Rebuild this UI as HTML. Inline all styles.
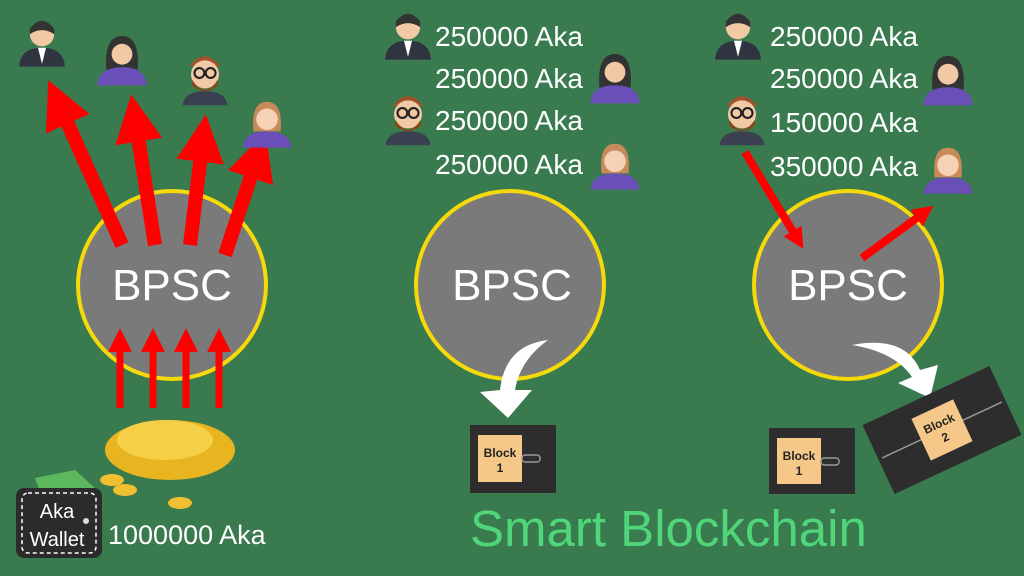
<!DOCTYPE html><html><head><style>body{margin:0}svg{display:block}</style></head><body>
<svg width="1024" height="576" viewBox="0 0 1024 576" xmlns="http://www.w3.org/2000/svg" font-family="Liberation Sans, sans-serif">
<defs>
<g id="man0"><circle cx="0" cy="-8" r="9" fill="#f1c9a5"/><path d="M-9,-12 Q0,-24 9,-12 L9,-8 Q0,-14 -9,-8Z" fill="#333"/><path d="M-17,16 Q-16,2 0,2 Q16,2 17,16Z" fill="#2f3440"/><path d="M-3,2 L0,14 L3,2Z" fill="#fff"/></g>
<g id="woman0"><path d="M-12,6 Q-14,-20 0,-20 Q14,-20 12,6Z" fill="#333"/><circle cx="0" cy="-6" r="8" fill="#f1c9a5"/><path d="M-19,18 Q-18,4 0,4 Q18,4 19,18Z" fill="#6b4fb8"/></g>
<g id="nerd0"><path d="M-11,-10 Q0,-24 11,-10Z" fill="#a0522d"/><circle cx="0" cy="-4" r="10" fill="#f1c9a5"/><path d="M-9,0 Q0,14 9,0 L9,4 Q0,12 -9,4Z" fill="#8b4513"/><circle cx="-4" cy="-5" r="3.5" fill="none" stroke="#222" stroke-width="1.5"/><circle cx="4" cy="-5" r="3.5" fill="none" stroke="#222" stroke-width="1.5"/><path d="M-16,18 Q-15,8 0,8 Q15,8 16,18Z" fill="#3a4050"/></g>
<g id="girl0"><path d="M-10,4 Q-12,-18 0,-18 Q12,-18 10,4Z" fill="#c88a5a"/><circle cx="0" cy="-5" r="8" fill="#f5d1b5"/><path d="M-18,16 Q-17,4 0,4 Q17,4 18,16Z" fill="#6b4fb8"/></g>
<g id="man"><use href="#man0" transform="scale(1.35)"/></g>
<g id="woman"><use href="#woman0" transform="scale(1.3)"/></g>
<g id="nerd"><use href="#nerd0" transform="scale(1.4)"/></g>
<g id="girl"><use href="#girl0" transform="scale(1.35)"/></g>
<marker id="ah" markerWidth="3.4" markerHeight="3.4" refX="1.7" refY="1.7" orient="auto"><path d="M0,0 L3.4,1.7 L0,3.4Z" fill="#f00"/></marker>
<marker id="ah2" markerWidth="2.6" markerHeight="2.6" refX="1.3" refY="1.3" orient="auto"><path d="M0,0 L2.6,1.3 L0,2.6Z" fill="#f00"/></marker>
</defs>
<rect width="1024" height="576" fill="#3a7a4f"/>
<g stroke="#f5d90a" stroke-width="4" fill="#7a7a7a">
<circle cx="172" cy="285" r="94"/><circle cx="510" cy="285" r="94"/><circle cx="848" cy="285" r="94"/></g>
<g fill="#fff" font-size="44" text-anchor="middle"><text x="172" y="300">BPSC</text><text x="512" y="300">BPSC</text><text x="848" y="300">BPSC</text></g>
<g stroke="#f00" stroke-width="14" fill="none">
<line x1="122" y1="245" x2="58" y2="102" marker-end="url(#ah)"/>
<line x1="155" y1="245" x2="135" y2="118" marker-end="url(#ah)"/>
<line x1="190" y1="245" x2="203" y2="138" marker-end="url(#ah)"/>
<line x1="225" y1="255" x2="258" y2="155" marker-end="url(#ah)"/>
</g>
<g stroke="#f00" stroke-width="7">
<line x1="120" y1="408" x2="120" y2="340" marker-end="url(#ah)"/>
<line x1="153" y1="408" x2="153" y2="340" marker-end="url(#ah)"/>
<line x1="186" y1="408" x2="186" y2="340" marker-end="url(#ah)"/>
<line x1="219" y1="408" x2="219" y2="340" marker-end="url(#ah)"/>
</g>
<use href="#man" x="42" y="45"/><use href="#woman" x="122" y="62"/><use href="#nerd" x="205" y="80"/><use href="#girl" x="267" y="126"/>
<ellipse cx="170" cy="450" rx="65" ry="30" fill="#e8b520"/>
<ellipse cx="165" cy="440" rx="48" ry="20" fill="#f5cf45"/>
<ellipse cx="112" cy="480" rx="12" ry="6" fill="#f0c030"/><ellipse cx="125" cy="490" rx="12" ry="6" fill="#f0c030"/><ellipse cx="180" cy="503" rx="12" ry="6" fill="#f0c030"/>
<path d="M35,478 L75,470 L95,488 L40,492Z" fill="#5cb85c"/>
<rect x="16" y="488" width="86" height="70" rx="8" fill="#2b2b2b"/>
<rect x="22" y="493" width="74" height="60" rx="6" fill="none" stroke="#fff" stroke-width="1.5" stroke-dasharray="4 3"/>
<circle cx="86" cy="521" r="3" fill="#ddd"/>
<g fill="#fff" font-size="20" text-anchor="middle"><text x="57" y="518">Aka</text><text x="57" y="546">Wallet</text></g>
<text x="108" y="544" fill="#fff" font-size="27">1000000 Aka</text>
<g fill="#fff" font-size="28"><text x="435" y="46">250000 Aka</text><text x="435" y="88">250000 Aka</text><text x="435" y="130">250000 Aka</text><text x="435" y="174">250000 Aka</text>
<text x="770" y="46">250000 Aka</text><text x="770" y="88">250000 Aka</text><text x="770" y="132">150000 Aka</text><text x="770" y="176">350000 Aka</text></g>
<use href="#man" x="408" y="38"/><use href="#woman" x="615" y="80"/><use href="#nerd" x="408" y="120"/><use href="#girl" x="615" y="168"/>
<use href="#man" x="738" y="38"/><use href="#woman" x="948" y="82"/><use href="#nerd" x="742" y="120"/><use href="#girl" x="948" y="172"/>
<g stroke="#f00" stroke-width="8"><line x1="745" y1="152" x2="798" y2="240" marker-end="url(#ah2)"/><line x1="862" y1="258" x2="925" y2="212" marker-end="url(#ah2)"/></g>
<path d="M548,340 Q505,345 500,390 L480,392 L508,418 L532,390 L515,390 Q520,360 548,340Z" fill="#fff"/>
<path d="M852,345 Q905,335 920,370 L938,365 L930,398 L898,383 L912,377 Q895,352 852,345Z" fill="#fff"/>
<rect x="470" y="425" width="86" height="68" fill="#2d2d2d"/><rect x="478" y="435" width="44" height="47" fill="#f5c88a"/>
<rect x="522" y="455" width="18" height="7" rx="3" fill="none" stroke="#999" stroke-width="1.5"/>
<g font-weight="bold" font-size="12" text-anchor="middle" fill="#222"><text x="500" y="457">Block</text><text x="500" y="472">1</text></g>
<rect x="769" y="428" width="86" height="66" fill="#2d2d2d"/><rect x="777" y="438" width="44" height="46" fill="#f5c88a"/>
<rect x="821" y="458" width="18" height="7" rx="3" fill="none" stroke="#999" stroke-width="1.5"/>
<g font-weight="bold" font-size="12" text-anchor="middle" fill="#222"><text x="799" y="460">Block</text><text x="799" y="475">1</text></g>
<g transform="translate(942,430) rotate(-25)">
<rect x="-70" y="-38" width="140" height="76" fill="#2d2d2d"/>
<line x1="-66" y1="0" x2="66" y2="0" stroke="#999" stroke-width="1.5"/>
<rect x="-23" y="-23" width="46" height="46" fill="#f5c88a"/>
<g font-weight="bold" font-size="12" text-anchor="middle" fill="#222"><text x="0" y="-3">Block</text><text x="0" y="12">2</text></g></g>
<text x="470" y="546" fill="#4fd67a" font-size="51">Smart Blockchain</text>
</svg></body></html>
